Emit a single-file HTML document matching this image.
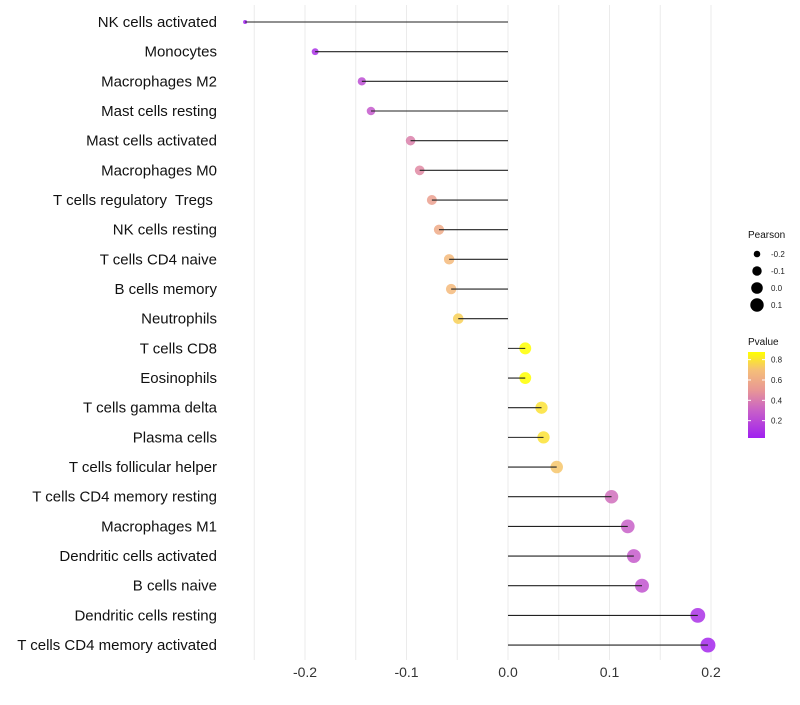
<!DOCTYPE html>
<html><head><meta charset="utf-8"><style>
body{margin:0;background:#fff;font-family:"Liberation Sans",sans-serif}
svg text{font-family:"Liberation Sans",sans-serif;white-space:pre}
</style></head><body>
<svg id="chart" width="800" height="700"></svg>
<script>
const categories=["NK cells activated","Monocytes","Macrophages M2","Mast cells resting","Mast cells activated","Macrophages M0","T cells regulatory  Tregs ","NK cells resting","T cells CD4 naive","B cells memory","Neutrophils","T cells CD8","Eosinophils","T cells gamma delta","Plasma cells","T cells follicular helper","T cells CD4 memory resting","Macrophages M1","Dendritic cells activated","B cells naive","Dendritic cells resting","T cells CD4 memory activated"];
const pearson=[-0.259,-0.190,-0.144,-0.135,-0.096,-0.087,-0.075,-0.068,-0.058,-0.056,-0.049,0.017,0.017,0.033,0.035,0.048,0.102,0.118,0.124,0.132,0.187,0.197];
const pvalue=[0.03,0.1,0.22,0.27,0.42,0.45,0.55,0.6,0.68,0.68,0.75,0.88,0.88,0.8,0.8,0.72,0.35,0.3,0.28,0.25,0.1,0.06];
const xTicks=[-0.2,-0.1,0.0,0.1,0.2];
const xTickLabels=["-0.2","-0.1","0.0","0.1","0.2"];
const sizeLegendVals=[-0.2,-0.1,0.0,0.1];
const pLegendTicks=[0.2,0.4,0.6,0.8];

const NS="http://www.w3.org/2000/svg";
const svg=document.getElementById('chart');
function mk(t,a,p){const e=document.createElementNS(NS,t);for(const k in a)e.setAttribute(k,a[k]);(p||svg).appendChild(e);return e;}
const xS=v=>508+v*1015;
const yS=i=>22+i*29.67;
const rS=v=>Math.sqrt(Math.max(3,33.6+114*v));
const stops=[[0.03,[160,32,240]],[0.3,[200,96,200]],[0.5,[232,150,150]],[0.7,[245,190,120]],[0.88,[255,255,0]]];
function col(p){if(p<=stops[0][0])return `rgb(${stops[0][1]})`;for(let i=1;i<stops.length;i++){if(p<=stops[i][0]){const [a,ca]=stops[i-1],[b,cb]=stops[i];const t=(p-a)/(b-a);return `rgb(${ca.map((c,j)=>Math.round(c+(cb[j]-c)*t))})`;}}return `rgb(${stops[stops.length-1][1]})`;}

for(let v=-0.25;v<=0.2001;v+=0.05){const g=mk('line',{x1:xS(v),x2:xS(v),y1:5,y2:660,stroke:'#ebebeb','stroke-width':1});

}
xTicks.forEach((v,i)=>{const t=mk('text',{x:xS(v),y:677,'text-anchor':'middle','font-size':14,fill:'#333'});t.textContent=xTickLabels[i];

});

categories.forEach((c,i)=>{
const y=yS(i);
const t=mk('text',{x:217,y:y+5,'text-anchor':'end','font-size':15,fill:'#111'});t.textContent=c;


const pt=mk('circle',{cx:xS(pearson[i]),cy:y,r:rS(pearson[i]),fill:col(pvalue[i]),'fill-opacity':0.85});


const ln=mk('line',{x1:xS(0),x2:xS(pearson[i]),y1:y,y2:y,stroke:'#222','stroke-width':1.1});


});

const lt=mk('text',{x:748,y:238,'font-size':10,fill:'#111'});lt.textContent='Pearson';


sizeLegendVals.forEach((v,i)=>{const y=254+i*17;
const c=mk('circle',{cx:757,cy:y,r:rS(v),fill:'#000'});


const t=mk('text',{x:771,y:y+3,'font-size':8,fill:'#222'});t.textContent=v.toFixed(1);

});

const ct=mk('text',{x:748,y:345,'font-size':10,fill:'#111'});ct.textContent='Pvalue';


const defs=mk('defs',{});const lg=mk('linearGradient',{id:'pg',x1:0,y1:1,x2:0,y2:0},defs);
stops.forEach(s=>mk('stop',{offset:((s[0]-0.03)/0.85),'stop-color':`rgb(${s[1]})`},lg));
const bar=mk('rect',{x:748,y:352,width:17,height:86,fill:'url(#pg)'});


const pY=p=>441-p*101.7;
pLegendTicks.forEach(p=>{mk('line',{x1:748,x2:751,y1:pY(p),y2:pY(p),stroke:'#fff'});mk('line',{x1:762,x2:765,y1:pY(p),y2:pY(p),stroke:'#fff'});
const t=mk('text',{x:771,y:pY(p)+3,'font-size':8,fill:'#222'});t.textContent=p.toFixed(1);

});
</script>
</body></html>
